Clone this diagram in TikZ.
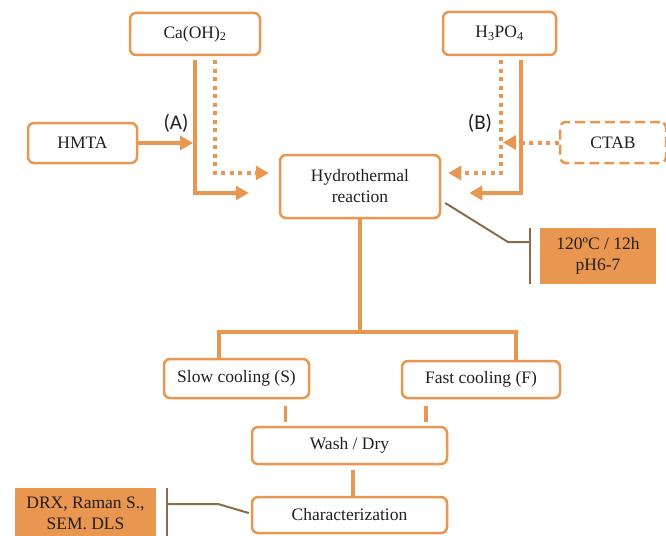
\documentclass[tikz,border=0pt]{standalone}
\usepackage{fontspec}
\setmainfont{Liberation Serif}
\newfontfamily\tagfont{Carlito}
\usepackage{tikz}
\usetikzlibrary{arrows.meta,calc}
\definecolor{procorange}{RGB}{233,150,80}
\definecolor{notebrown}{RGB}{139,107,74}
\definecolor{textdark}{RGB}{35,31,32}

\begin{document}
\begin{tikzpicture}[x=1pt, y=-1pt,
    box/.style={rectangle, draw=procorange, line width=2.5pt, fill=white, rounded corners=6pt, inner sep=0pt, align=center, text=textdark, font=\fontsize{17.5}{21}\selectfont},
    dashbox/.style={box, dash pattern=on 10pt off 5pt},
    notebox/.style={rectangle, fill=procorange, inner sep=0pt, align=center, text=textdark, font=\fontsize{17.5}{21}\selectfont},
    flow/.style={procorange, line width=4pt, -{Triangle[length=13pt,width=14pt]}},
    dotflow/.style={flow, dash pattern=on 4pt off 4.5pt},
    link/.style={procorange, line width=3.5pt},
    note/.style={notebrown, line width=2pt},
    tag/.style={text=textdark, font=\tagfont\fontsize{21}{24}\selectfont}
]
\useasboundingbox (0,0) rectangle (666,535);

% Reagents
\node[box, minimum width=130pt, minimum height=42pt] (caoh) at (195,34) {Ca(OH)\textsubscript{2}};
\node[box, minimum width=113pt, minimum height=43pt] (hpo) at (499.5,33.5) {H\textsubscript{3}PO\textsubscript{4}};
\node[box, minimum width=109pt, minimum height=40pt] (hmta) at (82.5,143) {HMTA};
\node[dashbox, minimum width=106pt, minimum height=41pt] (ctab) at (613,142.5) {CTAB};

% Reaction and conditions
\node[box, minimum width=160pt, minimum height=63pt] (hydro) at (360,186.5) {Hydrothermal\\reaction};
\node[notebox, minimum width=116pt, minimum height=56pt] (cond) at (598,256) {120ºC / 12h\\pH6-7};

% Cooling and treatment
\node[box, minimum width=145pt, minimum height=39pt] (slow) at (236.5,378.5) {Slow cooling (S)};
\node[box, minimum width=158pt, minimum height=37pt] (fast) at (481,379.5) {Fast cooling (F)};
\node[box, minimum width=195pt, minimum height=37pt] (wash) at (349.5,445.5) {Wash / Dry};
\node[box, minimum width=195pt, minimum height=36pt] (charac) at (349.5,515) {Characterization};
\node[notebox, minimum width=141pt, minimum height=50pt] (drx) at (85.5,513) {DRX, Raman S.,\\SEM. DLS};

% Route (A)
\draw[flow] ([yshift=-4pt]caoh.south) |- ([xshift=-30pt,yshift=-6.5pt]hydro.west);
\draw[dotflow] ([xshift=20pt,yshift=-4pt]caoh.south) |- ([xshift=-10pt,yshift=13.5pt]hydro.west);
\draw[flow] (hmta.east) -- ([xshift=-2pt]hmta.east -| caoh.south);
\node[tag] (taga) at (176,123) {(A)};

% Route (B)
\draw[flow] ([xshift=21.5pt,yshift=-4pt]hpo.south) |- ([xshift=28pt,yshift=-6.5pt]hydro.east);
\draw[dotflow] ([xshift=1.5pt,yshift=-4pt]hpo.south) |- ([xshift=7pt,yshift=13.5pt]hydro.east);
\draw[dotflow] (ctab.west) -- ([xshift=3.5pt]ctab.west -| hpo.south);
\node[tag] (tagb) at (480,123) {(B)};

% Conditions note
\coordinate (condbar) at ([xshift=-10pt]cond.west);
\coordinate (bendc) at (508,242);
\draw[note] ([xshift=-10pt]cond.north west) -- ([xshift=-10pt]cond.south west);
\draw[note] ([xshift=4pt,yshift=-16.5pt]hydro.east) -- (bendc) -- (bendc -| condbar);

% Split to cooling
\coordinate (split) at (360,332);
\coordinate (splitL) at (219,332);
\coordinate (splitR) at (516,332);
\draw[link] (hydro.south) -- (split);
\draw[link] (splitL |- slow.north) -- (splitL) -- (splitR) -- (splitR |- fast.north);

% Cooling to wash
\draw[link] ([xshift=-25pt,yshift=-7pt]slow.south east) -- ++(0,16);
\draw[link] ([xshift=25pt,yshift=-7pt]fast.south west) -- ++(0,16);
\draw[link] ([xshift=3.5pt,yshift=-5pt]wash.south) -- ([xshift=3.5pt]charac.north);

% Techniques note
\coordinate (drxbar) at ([xshift=11pt]drx.east);
\coordinate (bendd) at (218,504);
\draw[note] ([xshift=11pt]drx.north east) -- ([xshift=11pt]drx.south east);
\draw[note] ([xshift=-2pt,yshift=2pt]charac.west) -- (bendd) -- (bendd -| drxbar);

\end{tikzpicture}
\end{document}
